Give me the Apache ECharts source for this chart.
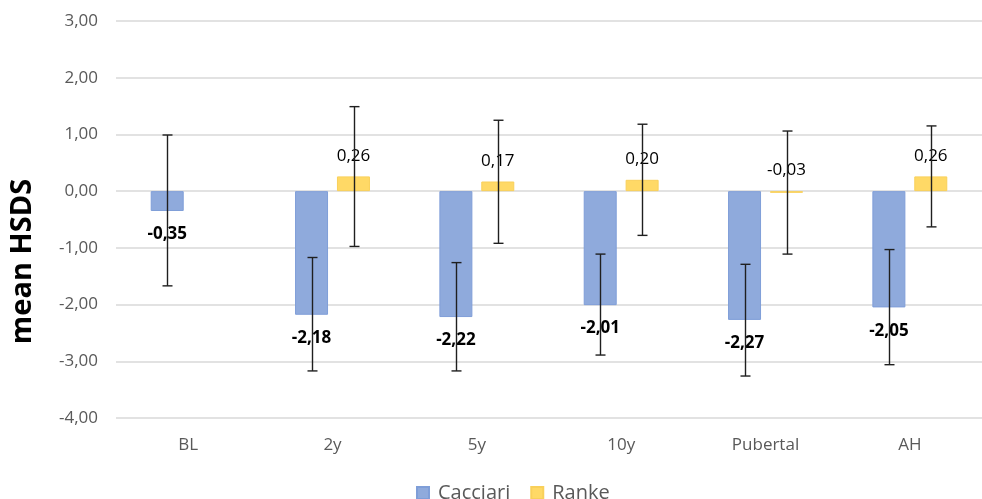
<!DOCTYPE html>
<html><head><meta charset="utf-8">
<script src="https://cdn.jsdelivr.net/npm/echarts@6/dist/echarts.min.js"></script>
<style>html,body{margin:0;padding:0;background:#fff}#c{width:982px;height:499px}</style>
</head><body><div id="c"></div>
<script>
const categories = ['BL', '2y', '5y', '10y', 'Pubertal', 'AH'];
const cacciari = [-0.35, -2.18, -2.22, -2.01, -2.27, -2.05];
const ranke = [null, 0.26, 0.17, 0.20, -0.03, 0.26];
const cacciariLow = [-1.67, -3.17, -3.17, -2.89, -3.26, -3.06];
const cacciariHigh = [0.99, -1.17, -1.26, -1.11, -1.29, -1.03];
const rankeLow = [null, -0.975, -0.92, -0.78, -1.11, -0.63];
const rankeHigh = [null, 1.49, 1.25, 1.18, 1.06, 1.15];
const yMin = -4, yMax = 3, yStep = 1;

const FONT = 'Open Sans';
const fmt = v => v.toFixed(2).replace('.', ',');

function errData(lo, hi) {
  const out = [];
  categories.forEach((c, i) => { if (lo[i] != null && hi[i] != null) out.push([i, lo[i], hi[i]]); });
  return out;
}
function errItem(offset) {
  return function (params, api) {
    const x = api.value(0), lo = api.value(1), hi = api.value(2);
    const p1 = api.coord([x, hi]), p2 = api.coord([x, lo]);
    const cx = Math.round(p1[0] + offset) + 0.5, cap = 5;
    const st = { stroke: '#1F1F1F', lineWidth: 1.4 };
    return { type: 'group', children: [
      { type: 'line', shape: { x1: cx, y1: p1[1], x2: cx, y2: p2[1] }, style: st },
      { type: 'line', shape: { x1: cx - cap, y1: p1[1], x2: cx + cap, y2: p1[1] }, style: st },
      { type: 'line', shape: { x1: cx - cap, y1: p2[1], x2: cx + cap, y2: p2[1] }, style: st }
    ]};
  };
}

const chart = echarts.init(document.getElementById('c'));
chart.setOption({
  backgroundColor: '#fff',
  animation: false,
  textStyle: { fontFamily: FONT },
  grid: { left: 114, top: 21, height: 397, width: 878, containLabel: false },
  legend: {
    data: ['Cacciari', 'Ranke'],
    left: 411, top: 478,
    icon: 'rect', itemWidth: 12, itemHeight: 12, itemGap: 20,
    textStyle: { fontFamily: FONT, fontSize: 20, color: '#595959', padding: [0, 0, 0, 4] }
  },
  xAxis: {
    type: 'category', data: categories,
    axisLine: { show: false }, axisTick: { show: false },
    axisLabel: { color: '#595959', fontSize: 17, fontFamily: FONT, margin: 19 }
  },
  yAxis: {
    type: 'value', min: yMin, max: yMax, interval: yStep,
    name: 'mean HSDS', nameLocation: 'middle', nameGap: 79,
    nameTextStyle: { fontSize: 29, fontWeight: 'bold', color: '#000', fontFamily: FONT, padding: [0, 84, 0, 0] },
    axisLine: { show: false }, axisTick: { show: false },
    splitLine: { lineStyle: { color: '#D9D9D9', width: 1.5 } },
    axisLabel: { color: '#595959', fontSize: 17, fontFamily: FONT, margin: 18, formatter: v => fmt(v) }
  },
  series: [
    {
      name: 'Cacciari', type: 'bar', data: cacciari, barWidth: 33, barGap: '27%',
      itemStyle: { color: '#8FAADC', borderColor: '#7F9ED8', borderWidth: 1 },
      label: { show: true, position: 'bottom', distance: 15, fontSize: 17, fontWeight: 'bold', color: '#000', fontFamily: FONT, formatter: p => fmt(p.value) }
    },
    {
      name: 'Ranke', type: 'bar', data: ranke.map(v => v == null ? '-' : v), barWidth: 33,
      itemStyle: { color: '#FFD966', borderColor: '#F9D05A', borderWidth: 1 },
      label: { show: true, position: 'top', distance: 12, fontSize: 17, color: '#000', fontFamily: FONT, formatter: p => fmt(p.value) }
    },
    {
      type: 'custom', name: 'errC', renderItem: errItem(-21), data: errData(cacciariLow, cacciariHigh),
      encode: { x: 0, y: [1, 2] }, z: 10, silent: true
    },
    {
      type: 'custom', name: 'errR', renderItem: errItem(21), data: errData(rankeLow, rankeHigh),
      encode: { x: 0, y: [1, 2] }, z: 10, silent: true
    }
  ]
});
</script></body></html>
